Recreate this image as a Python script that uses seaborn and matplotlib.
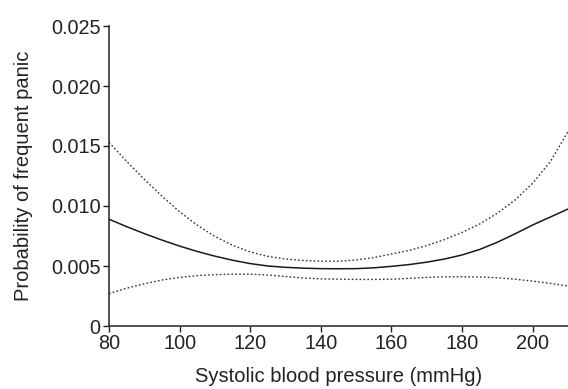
import matplotlib
matplotlib.use("Agg")
import matplotlib.pyplot as plt
import seaborn as sns
import pandas as pd

sbp = [80, 85, 90, 95, 100, 105, 110, 115, 120, 125, 130, 135, 140, 145, 150,
       155, 160, 165, 170, 175, 180, 185, 190, 195, 200, 205, 210]
prob_fit = [0.0089, 0.00828, 0.0077, 0.00716, 0.00666, 0.00621, 0.00582, 0.00548, 0.0052,
            0.00500, 0.00489, 0.00482, 0.00478, 0.00477, 0.00478, 0.00485, 0.00497, 0.00512,
            0.00532, 0.00558, 0.00592, 0.00638, 0.00698, 0.00768, 0.00842, 0.00908, 0.00975]
prob_upper = [0.0153, 0.01372, 0.01222, 0.01082, 0.00952, 0.0084, 0.00746, 0.00672, 0.00617,
              0.0058, 0.00558, 0.00546, 0.0054, 0.0054, 0.0055, 0.0057, 0.0060, 0.0063,
              0.0067, 0.0072, 0.0078, 0.0085, 0.0094, 0.0105, 0.0119, 0.0137, 0.0162]
prob_lower = [0.0027, 0.00315, 0.00352, 0.00383, 0.00405, 0.0042, 0.00428, 0.00432, 0.00432,
              0.00425, 0.00412, 0.0040, 0.00393, 0.0039, 0.00388, 0.00388, 0.0039, 0.00397,
              0.00405, 0.0041, 0.0041, 0.00408, 0.00402, 0.0039, 0.00374, 0.00355, 0.00333]
x_ticks = [80, 100, 120, 140, 160, 180, 200]
y_ticks = [0, 0.005, 0.010, 0.015, 0.020, 0.025]
y_tick_labels = ["0", "0.005", "0.010", "0.015", "0.020", "0.025"]

sns.set_theme(style="ticks")
plt.rcParams['font.family'] = ['Liberation Sans', 'DejaVu Sans']

df = pd.DataFrame({"sbp": sbp, "fit": prob_fit, "upper": prob_upper, "lower": prob_lower})

fig = plt.figure(figsize=(5.68, 3.89), dpi=100)
ax = fig.add_axes([109/568, 1 - 326/389, 1 - 109/568, (326 - 26)/389])

line_col = "#1a1a1a"
sns.lineplot(data=df, x="sbp", y="fit", ax=ax, color=line_col, linewidth=1.1)
sns.lineplot(data=df, x="sbp", y="upper", ax=ax, color="#333333", linewidth=1.0,
             linestyle=(0, (1.2, 1.6)))
sns.lineplot(data=df, x="sbp", y="lower", ax=ax, color="#333333", linewidth=1.0,
             linestyle=(0, (1.2, 1.6)))

ax.set_xlim(80, 210)
ax.set_ylim(0, 0.025)
ax.set_xticks(x_ticks)
ax.set_xticklabels([str(t) for t in x_ticks])
ax.set_yticks(y_ticks)
ax.set_yticklabels(y_tick_labels)
ax.tick_params(axis="both", labelsize=14.3, colors="#222222", length=4, width=1,
               direction="out", pad=2)
ax.tick_params(axis="both", labelcolor="#222222")
ax.set_xlabel("Systolic blood pressure (mmHg)", fontsize=14.5, color="#222222", labelpad=10)
ax.set_ylabel("Probability of frequent panic", fontsize=14.5, color="#222222", labelpad=13)
for s in ["top", "right"]:
    ax.spines[s].set_visible(False)
for s in ["left", "bottom"]:
    ax.spines[s].set_color("#333333")
    ax.spines[s].set_linewidth(1.2)

fig.savefig("out.png", dpi=100)
